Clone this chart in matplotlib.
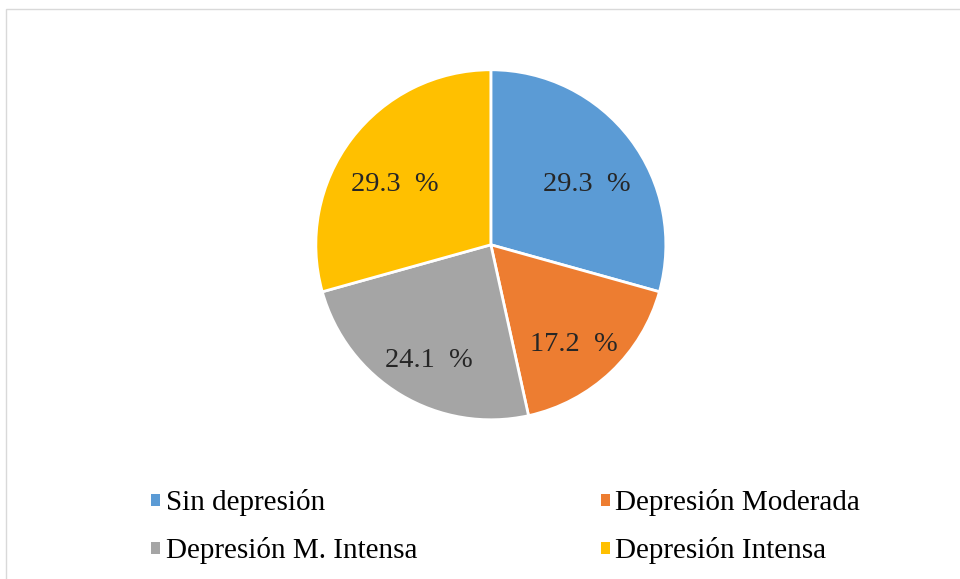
import numpy as np
import matplotlib.pyplot as plt
from matplotlib.patches import Rectangle

# ---------- datos ----------
categorias = ["Sin depresión", "Depresión Moderada", "Depresión M. Intensa", "Depresión Intensa"]
valores = [29.3, 17.2, 24.1, 29.3]
colores = ["#5B9BD5", "#ED7D31", "#A5A5A5", "#FFC000"]

plt.rcParams['font.family'] = ['Liberation Serif', 'DejaVu Serif']

fig = plt.figure(figsize=(9.6, 5.79), dpi=100)
fig.patches.append(Rectangle((0.006, -0.01), 1.0, 0.995, transform=fig.transFigure,
                             fill=False, edgecolor="#d9d9d9", linewidth=1))

ax = fig.add_axes([0.329, 0.275, 0.3646, 0.6045])
wedges, textos = ax.pie(valores, colors=colores, startangle=90, counterclock=False,
                        labels=None, labeldistance=None,
                        wedgeprops=dict(edgecolor="white", linewidth=2))
# etiquetas de porcentaje dentro de cada sector
for w, v in zip(wedges, valores):
    ang = np.deg2rad((w.theta1 + w.theta2) / 2)
    ax.text(0.69 * np.cos(ang), 0.69 * np.sin(ang) - 0.07, f"{v:.1f}  %",
            ha="center", va="center", fontsize=20.5, color="#262626")
ax.set_xlim(-1, 1)
ax.set_ylim(-1, 1)

# orden por columnas para que la fila 1 sea Sin / Moderada
orden = [0, 2, 1, 3]
leg = fig.legend([wedges[i] for i in orden], [categorias[i] for i in orden],
                 ncol=2, loc="upper left", bbox_to_anchor=(0.13, 0.2),
                 frameon=False, fontsize=21, handlelength=0.3, handleheight=0.3,
                 handletextpad=0.2, columnspacing=6.3, labelspacing=0.72)
for h in leg.legend_handles:
    h.set_edgecolor("none")

fig.savefig("out.png", dpi=100)
